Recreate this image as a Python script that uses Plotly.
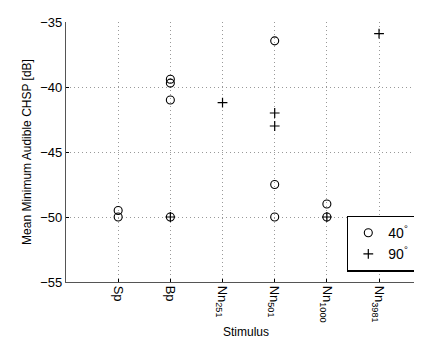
import plotly.graph_objects as go

categories = ["Sp", "Bp", "Nn<sub>251</sub>", "Nn<sub>501</sub>", "Nn<sub>1000</sub>", "Nn<sub>3981</sub>"]
cat_pos = [1, 2, 3, 4, 5, 6]

s40_cat = ["Sp", "Sp", "Bp", "Bp", "Bp", "Bp", "Nn<sub>501</sub>", "Nn<sub>501</sub>", "Nn<sub>501</sub>", "Nn<sub>1000</sub>", "Nn<sub>1000</sub>"]
s40_val = [-49.5, -50.0, -39.4, -39.7, -41.0, -50.0, -36.45, -47.5, -50.0, -49.0, -50.0]

s90_cat = ["Bp", "Nn<sub>251</sub>", "Nn<sub>501</sub>", "Nn<sub>501</sub>", "Nn<sub>1000</sub>", "Nn<sub>3981</sub>"]
s90_val = [-50.0, -41.2, -42.0, -43.0, -50.0, -35.9]

y_ticks = [-35, -40, -45, -50, -55]

pos = dict(zip(categories, cat_pos))

fig = go.Figure()
fig.add_trace(go.Scatter(
    x=[pos[c] for c in s40_cat], y=s40_val, mode="markers", name="40<sup>°</sup> ",
    marker=dict(symbol="circle-open", size=8, color="black", line=dict(width=1.1, color="black")),
))
fig.add_trace(go.Scatter(
    x=[pos[c] for c in s90_cat], y=s90_val, mode="markers", name="90<sup>°</sup> ",
    marker=dict(symbol="cross-thin-open", size=7, color="black", line=dict(width=1.2, color="black")),
))

fig.update_layout(
    width=422, height=348,
    margin=dict(l=58, r=4, t=14, b=74),
    plot_bgcolor="white", paper_bgcolor="white",
    font=dict(family="Liberation Sans, Arial, sans-serif", size=12, color="black"),
    showlegend=True,
    legend=dict(x=0.78, y=0.04, xanchor="left", yanchor="bottom",
                bordercolor="black", borderwidth=1.5, bgcolor="white",
                font=dict(size=14), itemwidth=30, tracegroupgap=0),
    xaxis=dict(
        range=[0, 6.9], tickvals=cat_pos, ticktext=categories, tickangle=90,
        showline=True, linecolor="#555", linewidth=1.2,
        showgrid=True, gridcolor="#999", griddash="1px,3px", gridwidth=1,
        ticks="inside", ticklen=3, tickcolor="black", zeroline=False,
        title=dict(text="Stimulus", font=dict(size=12), standoff=6),
        tickfont=dict(size=13),
    ),
    yaxis=dict(
        range=[-55, -35], tickvals=y_ticks,
        showline=True, linecolor="#555", linewidth=1.2,
        showgrid=True, gridcolor="#999", griddash="1px,3px", gridwidth=1,
        ticks="inside", ticklen=3, tickcolor="black", zeroline=False,
        title=dict(text="Mean Minimum Audible CHSP [dB]", font=dict(size=12), standoff=6),
        tickfont=dict(size=13),
    ),
)

fig.write_html("out.html")
